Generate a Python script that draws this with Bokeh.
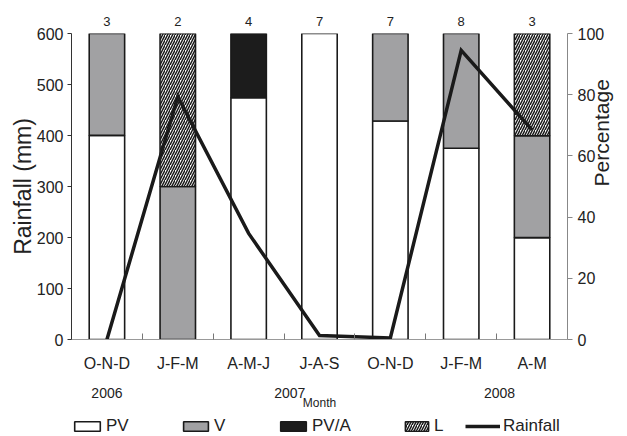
import numpy as np
from bokeh.plotting import figure
from bokeh.layouts import column
from bokeh.models import (Range1d, LinearAxis, FixedTicker, ColumnDataSource, Legend, LegendItem)
from bokeh.embed import file_html
from bokeh.resources import INLINE

# ---- data ----
categories = ["O-N-D", "J-F-M", "A-M-J", "J-A-S", "O-N-D", "J-F-M", "A-M"]
counts = ["3", "2", "4", "7", "7", "8", "3"]
pv = [66.7, 0, 79, 100, 71.4, 62.5, 33.3]
v = [33.3, 50, 0, 0, 28.6, 37.5, 33.3]
pva = [0, 0, 21, 0, 0, 0, 0]
l_ = [0, 50, 0, 0, 0, 0, 33.4]
rainfall = [0, 476, 208, 8, 3, 567, 411]
years = ["2006", "2007", "2008"]
year_pos = [0.5, 3.08, 6.04]
legend_names = ["PV", "V", "PV/A", "L", "Rainfall"]

FONT = "Liberation Sans"
TXT = "#222222"
n = len(categories)
xc = np.arange(n) + 0.5

p = figure(width=627, height=414, output_backend="svg", toolbar_location=None,
           x_range=Range1d(0, n), y_range=Range1d(0, 600),
           x_axis_location=None, y_axis_location=None,
           min_border_left=71, min_border_right=59, min_border_top=33, min_border_bottom=75)
p.extra_y_ranges = {"pct": Range1d(0, 100)}
p.xgrid.visible = False
p.ygrid.visible = False
p.outline_line_color = None

styles = {"PV": dict(fill_color="white"),
          "V": dict(fill_color="#a1a1a3"),
          "PV/A": dict(fill_color="#1c1c1c"),
          "L": dict(fill_color="white", hatch_pattern="/", hatch_color="#1a1a1a",
                    hatch_scale=5, hatch_weight=1.5)}
bar_line = dict(line_color="#1a1a1a", line_width=1.6)
rain_line = dict(line_color="#1a1a1a", line_width=3.5)

# ---- stacked bars (percentage axis) ----
series = [("PV", pv), ("V", v), ("PV/A", pva), ("L", l_)]
sources = {}
bottom = np.zeros(n)
for name, vals in series:
    vals = np.array(vals, dtype=float)
    mask = vals > 0
    src = ColumnDataSource(dict(x=xc[mask], bottom=bottom[mask], top=(bottom + vals)[mask]))
    sources[name] = src
    p.vbar(x="x", bottom="bottom", top="top", width=0.5, source=src, y_range_name="pct",
           **bar_line, **styles[name])
    bottom = bottom + vals

# ---- rainfall line ----
rain_src = ColumnDataSource(dict(x=xc, y=rainfall))
p.line(x="x", y="y", source=rain_src, line_join="miter", **rain_line)


def style_axis(ax, size="16px"):
    ax.major_label_text_font = FONT
    ax.major_label_text_font_size = size
    ax.major_label_text_color = TXT
    ax.axis_label_text_font = FONT
    ax.axis_label_text_font_style = "normal"
    ax.axis_label_text_color = TXT
    ax.minor_tick_out = 0
    ax.minor_tick_in = 0
    ax.major_tick_in = 0


# ---- left axis ----
left = LinearAxis(ticker=FixedTicker(ticks=list(range(0, 601, 100))))
style_axis(left)
left.axis_line_color = "#333333"
left.major_tick_line_color = "#333333"
left.major_tick_out = 4
left.major_label_standoff = 4
left.axis_label = "Rainfall (mm)"
left.axis_label_text_font_size = "23px"
left.axis_label_standoff = -2
p.add_layout(left, "left")

# ---- right axis (ticks) ----
right = LinearAxis(y_range_name="pct", ticker=FixedTicker(ticks=list(range(0, 101, 20))))
style_axis(right)
right.axis_line_color = "#888888"
right.major_tick_line_color = "#888888"
right.major_tick_out = 5
right.major_label_standoff = 5
p.add_layout(right, "right")

# ---- right axis title "Percentage" (title-only axis, reads bottom to top) ----
right_title = LinearAxis(y_range_name="pct", ticker=FixedTicker(ticks=[]))
style_axis(right_title)
right_title.axis_line_color = None
right_title.major_tick_out = 0
right_title.major_label_standoff = 0
right_title.axis_label = "Percentage"
right_title.axis_label_text_font_size = "21px"
right_title.axis_label_standoff = -6
right_title.axis_label_text_align = "center"
if hasattr(right_title, "axis_label_orientation"):
    right_title.axis_label_orientation = float(np.pi / 2)
p.add_layout(right_title, "right")

# ---- counts above bars ----
top_ax = LinearAxis(ticker=FixedTicker(ticks=list(xc)))
style_axis(top_ax, "13px")
top_ax.major_label_overrides = {float(x): c for x, c in zip(xc, counts)}
top_ax.axis_line_color = None
top_ax.major_tick_out = 0
top_ax.major_label_standoff = 8
p.add_layout(top_ax, "above")

# ---- category axis ----
bottom_ax = LinearAxis(ticker=FixedTicker(ticks=list(xc), minor_ticks=list(range(1, n))))
style_axis(bottom_ax)
bottom_ax.major_label_overrides = {float(x): c for x, c in zip(xc, categories)}
bottom_ax.axis_line_color = "#999999"
bottom_ax.major_tick_out = 0
bottom_ax.minor_tick_in = 6
bottom_ax.minor_tick_line_color = "#777777"
bottom_ax.major_label_standoff = 15
p.add_layout(bottom_ax, "below")

# ---- year axis with "Month" title ----
year_ax = LinearAxis(ticker=FixedTicker(ticks=year_pos))
style_axis(year_ax, "14px")
year_ax.major_label_overrides = {float(x): t for x, t in zip(year_pos, years)}
year_ax.axis_line_color = None
year_ax.major_tick_out = 0
year_ax.major_label_standoff = 13
year_ax.axis_label = "Month"
year_ax.axis_label_text_font_size = "12px"
year_ax.axis_label_standoff = -5
p.add_layout(year_ax, "below")

# ---- legend strip: hidden copies of the renderers supply the legend swatches ----
q = figure(width=627, height=22, output_backend="svg", toolbar_location=None,
           x_range=p.x_range, y_range=Range1d(-2000, -1000),
           x_axis_location=None, y_axis_location=None,
           min_border_left=0, min_border_right=0, min_border_top=0, min_border_bottom=0)
q.xgrid.visible = False
q.ygrid.visible = False
q.outline_line_color = None
leg_r = {}
for name in ["PV", "V", "PV/A", "L"]:
    leg_r[name] = q.vbar(x="x", top="top", bottom="bottom", width=0.5, source=sources[name],
                         **bar_line, **styles[name])
leg_r["Rainfall"] = q.line(x="x", y="y", source=rain_src, **rain_line)
for r in leg_r.values():
    r.visible = False

leg_x = {"PV": 0, "V": 109, "PV/A": 206, "L": 331, "Rainfall": 394}
leg_w = {"PV": 32, "V": 31, "PV/A": 32, "L": 29, "Rainfall": 35}
for name in legend_names:
    lg = Legend(items=[LegendItem(label=name, renderers=[leg_r[name]])],
                location=(leg_x[name], 0), orientation="horizontal",
                glyph_width=leg_w[name], glyph_height=12, label_standoff=3,
                label_text_font=FONT, label_text_font_size="17px", label_text_color=TXT,
                label_height=12, padding=0, margin=0, spacing=0,
                inactive_fill_alpha=0,
                border_line_color=None, background_fill_alpha=0)
    q.add_layout(lg, "center")

layout = column(p, q, spacing=0)
open("out.html", "w").write(file_html(layout, INLINE))
